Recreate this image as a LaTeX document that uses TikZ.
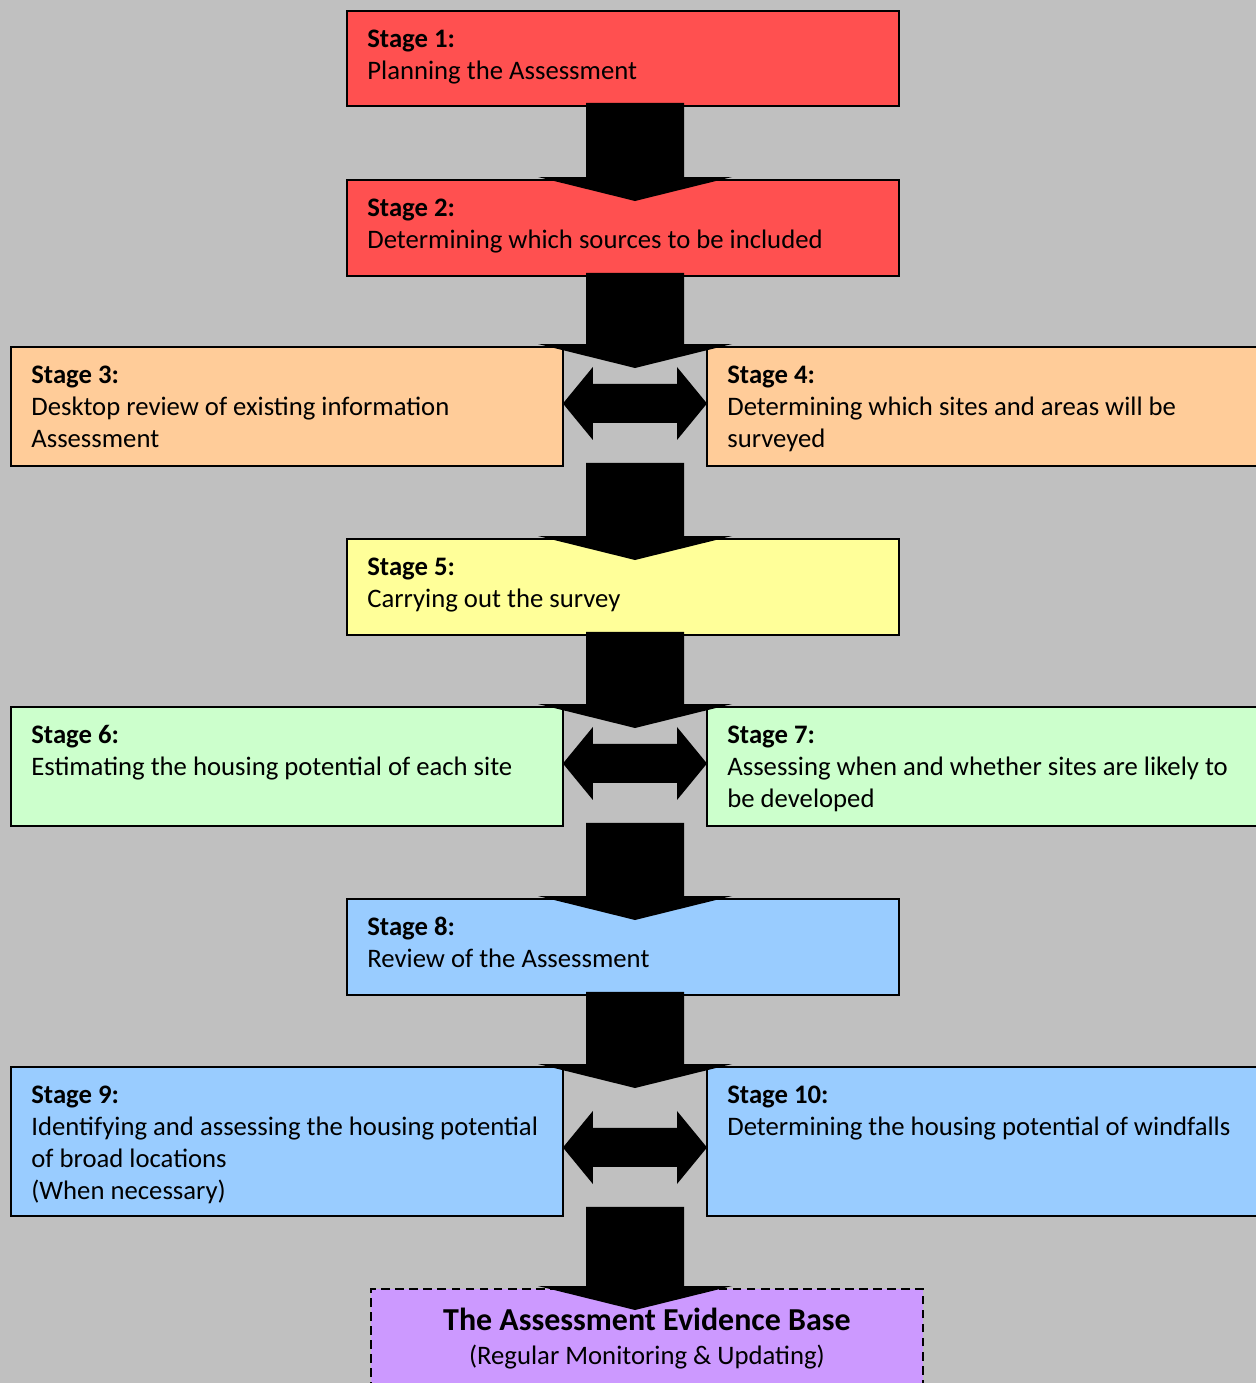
\documentclass[tikz,border=0pt]{standalone}
\usepackage{fontspec}
\setmainfont{Carlito}
\usepackage{tikz}
\usepackage{xcolor}
\usetikzlibrary{calc}

\definecolor{bggray}{HTML}{C0C0C0}
\definecolor{stagered}{HTML}{FF5050}
\definecolor{stageorange}{HTML}{FFCC99}
\definecolor{stageyellow}{HTML}{FFFF99}
\definecolor{stagegreen}{HTML}{CCFFCC}
\definecolor{stageblue}{HTML}{99CCFF}
\definecolor{stagepurple}{HTML}{CC99FF}

\newcommand\stagefont{\fontsize{15.2}{18.2}\selectfont}
\newcommand\titlefont{\fontsize{18.2}{21}\selectfont\bfseries}

\tikzset{
  stagebox/.style={draw,line width=1.1pt,minimum width=11.04cm,anchor=north west,inner sep=0pt,outer sep=0pt},
  stagetext/.style={anchor=north west,inner sep=0pt,align=left,font=\stagefont},
  blockarr/.style={fill=black}
}

% big down arrow from one box into the next
\newcommand\blockdown[3][-3]{%
\coordinate (ua) at ($(#2.south -| ax)+(0,#1)$);
\coordinate (ub) at ($(#3.north -| ax)+(0,-3)$);
\fill[blockarr] ($(ua)+(-49,0)$)--($(ua)+(49,0)$)--($(ub)+(49,0)$)--($(ub)+(97,0)$)
  --($(ub)+(0,24)$)--($(ub)+(-97,0)$)--($(ub)+(-49,0)$)--cycle;}
% two headed arrow between two boxes side by side
\newcommand\blockboth[3]{%
\coordinate (la) at ($(#1.east)+(0,#3)$);
\coordinate (ra) at ($(#2.west)+(0,#3)$);
\fill[blockarr] (la)--($(la)+(30,-36.5)$)--($(la)+(30,-19.5)$)--($(ra)+(-30,-19.5)$)
  --($(ra)+(-30,-36.5)$)--(ra)--($(ra)+(-30,36.5)$)--($(ra)+(-30,19.5)$)
  --($(la)+(30,19.5)$)--($(la)+(30,36.5)$)--cycle;}

\begin{document}
\begin{tikzpicture}[x=0.02cm,y=-0.02cm]
\useasboundingbox (0,0) rectangle (1256,1383);
\fill[bggray](0,0) rectangle (1256,1383);
\coordinate (ax) at (635,0);

\node[stagebox,fill=stagered,minimum height=1.9cm] (s1) at (347,11) {};
\node[stagebox,fill=stagered,minimum height=1.92cm] (s2) at (347,180) {};
\node[stagebox,fill=stageorange,minimum height=2.38cm] (s3) at (11,347) {};
\node[stagebox,fill=stageorange,minimum height=2.38cm] (s4) at (707,347) {};
\node[stagebox,fill=stageyellow,minimum height=1.92cm] (s5) at (347,539) {};
\node[stagebox,fill=stagegreen,minimum height=2.38cm] (s6) at (11,707) {};
\node[stagebox,fill=stagegreen,minimum height=2.38cm] (s7) at (707,707) {};
\node[stagebox,fill=stageblue,minimum height=1.92cm] (s8) at (347,899) {};
\node[stagebox,fill=stageblue,minimum height=2.98cm] (s9) at (11,1067) {};
\node[stagebox,fill=stageblue,minimum height=2.98cm] (s10) at (707,1067) {};
\node[stagebox,fill=stagepurple,dash pattern=on 5pt off 3pt,minimum height=2.2cm] (eb) at (371,1289) {};

\node[stagetext] (t1) at ($(s1.north west)+(20,13.5)$) {\strut\textbf{Stage 1:}\\Planning the Assessment};
\node[stagetext] (t2) at ($(s2.north west)+(20,13.5)$) {\strut\textbf{Stage 2:}\\Determining which sources to be included};
\node[stagetext] (t3) at ($(s3.north west)+(20,13.5)$) {\strut\textbf{Stage 3:}\\Desktop review of existing information\\Assessment};
\node[stagetext] (t4) at ($(s4.north west)+(20,13.5)$) {\strut\textbf{Stage 4:}\\Determining which sites and areas will be\\surveyed};
\node[stagetext] (t5) at ($(s5.north west)+(20,13.5)$) {\strut\textbf{Stage 5:}\\Carrying out the survey};
\node[stagetext] (t6) at ($(s6.north west)+(20,13.5)$) {\strut\textbf{Stage 6:}\\Estimating the housing potential of each site};
\node[stagetext] (t7) at ($(s7.north west)+(20,13.5)$) {\strut\textbf{Stage 7:}\\Assessing when and whether sites are likely to\\be developed};
\node[stagetext] (t8) at ($(s8.north west)+(20,13.5)$) {\strut\textbf{Stage 8:}\\Review of the Assessment};
\node[stagetext] (t9) at ($(s9.north west)+(20,13.5)$) {\strut\textbf{Stage 9:}\\Identifying and assessing the housing potential\\of broad locations\\(When necessary)};
\node[stagetext] (t10) at ($(s10.north west)+(20,13.5)$) {\strut\textbf{Stage 10:}\\Determining the housing potential of windfalls};
\node[anchor=base,inner sep=0pt,font=\titlefont] (ebt) at ($(eb.north)+(0,41)$) {The Assessment Evidence Base};
\node[anchor=base,inner sep=0pt,font=\stagefont] (ebs) at ($(eb.north)+(0,75)$) {(Regular Monitoring \& Updating)};

\blockdown{s1}{s2}
\blockdown{s2}{s3}
\blockdown{s3}{s5}
\blockdown{s5}{s6}
\blockdown{s6}{s8}
\blockdown{s8}{s9}
\blockdown[-9]{s9}{eb}
\blockboth{s3}{s4}{-3}
\blockboth{s6}{s7}{-3}
\blockboth{s9}{s10}{6}
\end{tikzpicture}
\end{document}
